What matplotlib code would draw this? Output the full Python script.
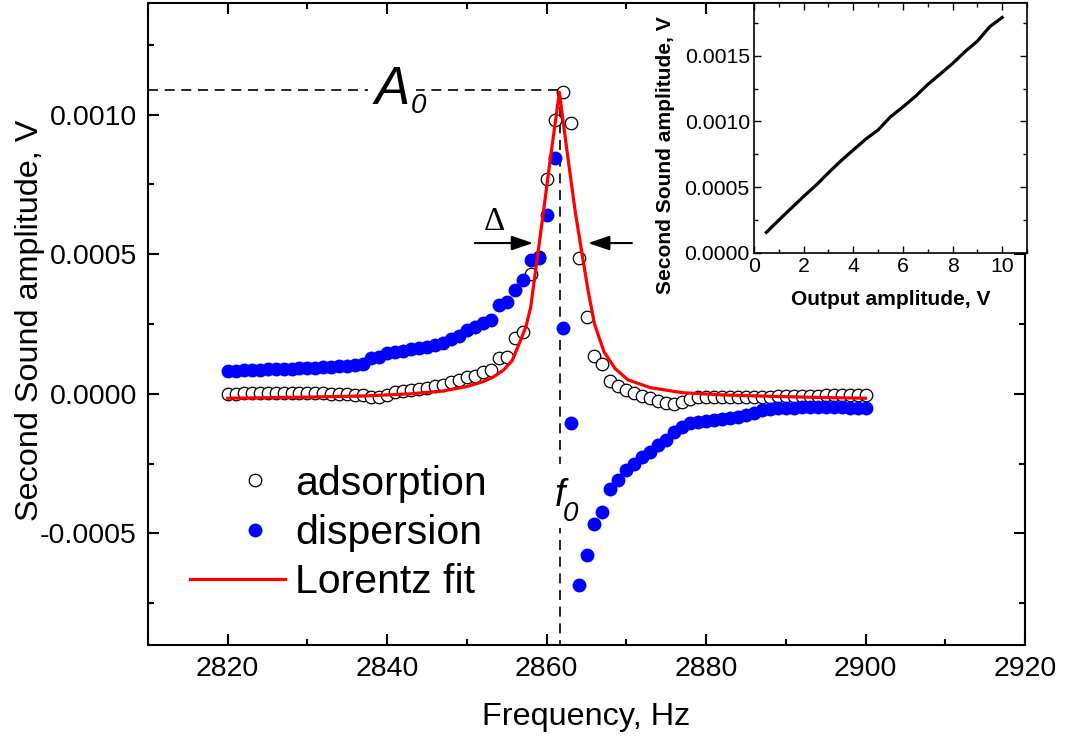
import numpy as np
import matplotlib
matplotlib.use('Agg')
import matplotlib.pyplot as plt
from matplotlib.legend_handler import HandlerLine2D
from matplotlib.ticker import MultipleLocator, FormatStrFormatter

# ---------------- data ----------------
freq = list(range(2820, 2901))  # Hz, 1 Hz step

adsorption = [
    0.0, 0.000001, 0.000002, 0.000002, 0.000002, 0.000003, 0.000003, 0.000003, 0.000003, 0.000002,   # 2820-2829
    0.000002, 0.000002, 0.000002, 0.000001, 0.0, -0.000002, -0.000004, -0.000006, -0.00001, -0.00001,  # 2830-2839
    -0.000004, 0.000006, 0.00001, 0.000014, 0.000018, 0.00002, 0.000028, 0.000031, 0.000043, 0.000049, # 2840-2849
    0.000061, 0.000065, 0.000079, 0.000085, 0.000127, 0.00013, 0.0002, 0.000222, 0.00043, 0.00049,     # 2850-2859
    0.00077, 0.00098, 0.00108, 0.00097, 0.000485, 0.000276, 0.000137, 0.000106, 0.000045, 0.000028,    # 2860-2869
    0.000015, 0.000003, -0.000007, -0.000016, -0.000025, -0.000033, -0.000035, -0.00003, -0.000017, -0.000013,  # 2870-2879
    -0.000012, -0.000012, -0.000012, -0.000012, -0.000011, -0.000011, -0.00001, -0.00001, -0.00001, -0.000009,  # 2880-2889
    -0.000009, -0.000008, -0.000008, -0.000007, -0.000007, -0.000006, -0.000006, -0.000005, -0.000005, -0.000004,  # 2890-2899
    -0.000004,                                                                                          # 2900
]

dispersion = [
    0.000083, 0.000083, 0.000084, 0.000085, 0.000086, 0.000087, 0.000088, 0.000089, 0.00009, 0.000091,   # 2820-2829
    0.000092, 0.000093, 0.000095, 0.000096, 0.000098, 0.0001, 0.000102, 0.000106, 0.000127, 0.000133,   # 2830-2839
    0.000145, 0.00015, 0.000155, 0.00016, 0.000164, 0.000169, 0.000176, 0.000183, 0.000197, 0.000206,   # 2840-2849
    0.000228, 0.000238, 0.000252, 0.000266, 0.000318, 0.00033, 0.000372, 0.000408, 0.00048, 0.000485,   # 2850-2859
    0.00064, 0.000843, 0.000235, -0.000105, -0.000685, -0.000578, -0.000467, -0.000422, -0.000342, -0.000309,  # 2860-2869
    -0.000273, -0.000252, -0.000225, -0.000207, -0.000184, -0.000166, -0.000136, -0.000118, -0.000106, -0.0001,  # 2870-2879
    -0.000096, -0.000094, -0.000091, -0.000088, -0.000082, -0.000076, -0.000068, -0.000058, -0.000054, -0.000052,  # 2880-2889
    -0.00005, -0.00005, -0.000049, -0.000049, -0.000048, -0.000048, -0.000048, -0.000049, -0.00005, -0.00005,  # 2890-2899
    -0.00005,                                                                                             # 2900
]

fit_f = [2820, 2830, 2837, 2843, 2847, 2850, 2852, 2853.3, 2854.6, 2855.7, 2856.7, 2857.4, 2858.0,
         2858.7, 2859.5, 2860.5, 2861.6, 2862.6, 2863.6, 2864.5, 2865.2, 2866.0, 2867.2, 2868.6,
         2870.2, 2873.0, 2877.0, 2882.0, 2888.0, 2894.0, 2900.0]
fit_v = [-0.000016, -0.000012, -0.000008, 0.0, 0.00001, 0.000026, 0.000043, 0.00006, 0.000085, 0.00012,
         0.00019, 0.00024, 0.00031, 0.00046, 0.00063, 0.00085, 0.00108, 0.00086, 0.00065, 0.00049,
         0.00037, 0.00025, 0.00015, 0.00009, 0.00005, 0.000022, 0.000004, -0.000004, -0.000009,
         -0.000013, -0.000016]

# inset: output amplitude vs second sound amplitude
out_amp = [0.5, 1.0, 1.5, 2.0, 2.5, 3.0, 3.5, 4.0, 4.5, 5.0, 5.5, 6.0, 6.5, 7.0, 7.5, 8.0, 8.5, 9.0, 9.5, 10.0]
ss_amp = [0.000157, 0.00025, 0.00034, 0.00043, 0.000515, 0.00061, 0.0007, 0.000783, 0.000865, 0.000935,
          0.001035, 0.00111, 0.00119, 0.00128, 0.00136, 0.00144, 0.00153, 0.00161, 0.00172, 0.00179]

legend_labels = ['adsorption', 'dispersion', 'Lorentz fit']

f0 = 2861.65
A0 = 0.001088
delta_y = 0.00054
delta_left = (2851.0, 2858.3)
delta_right = (2870.7, 2865.2)

# ---------------- figure ----------------
plt.rcParams['font.family'] = ['Liberation Sans', 'DejaVu Sans']

fig = plt.figure(figsize=(10.72, 7.45), dpi=100)
ax = fig.add_axes([148 / 1072, 100 / 745, 877 / 1072, 642 / 745])

l1, = ax.plot(freq, adsorption, 'o', mfc='white', mec='black', ms=9, mew=0.9, zorder=3,
              label=legend_labels[0])
l2, = ax.plot(freq, dispersion, 'o', color='#0000FF', mec='#0000FF', ms=10, mew=0, zorder=4,
              label=legend_labels[1])
l3, = ax.plot(fit_f, fit_v, '-', color='#FF0000', lw=2.3, zorder=5, label=legend_labels[2])

# dashed guide lines
ax.plot([2810, f0], [A0, A0], color='black', lw=1.2, dashes=(6, 4), zorder=2)
ax.plot([f0, f0], [A0, -0.0009], color='black', lw=1.2, dashes=(6, 4), zorder=2)

ax.set_xlim(2810, 2920)
ax.set_ylim(-0.0009, 0.0014)
ax.xaxis.set_major_locator(MultipleLocator(20))
ax.xaxis.set_minor_locator(MultipleLocator(10))
ax.yaxis.set_major_locator(MultipleLocator(0.0005))
ax.yaxis.set_minor_locator(MultipleLocator(0.00025))
ax.yaxis.set_major_formatter(FormatStrFormatter('%.4f'))
for s in ax.spines.values():
    s.set_linewidth(1.5)
ax.tick_params(which='both', direction='in', top=True, right=True, width=1.5)
ax.tick_params(which='major', length=8)
ax.tick_params(which='minor', length=4.5)
ax.tick_params(axis='both', labelsize=20.5)
ax.tick_params(axis='x', pad=8)
ax.tick_params(axis='y', pad=8)
ax.set_xlabel('Frequency, Hz', fontsize=23.3, labelpad=14)
ax.set_ylabel('Second Sound amplitude, V', fontsize=23.3)
ax.yaxis.set_label_coords(-0.117, 0.505)

# annotations
ax.text(2840.6, A0, 'A', fontsize=38, style='italic', ha='center', va='center',
        bbox=dict(facecolor='white', edgecolor='none', pad=5), zorder=2.5)
ax.text(2843.9, 0.00103, '0', fontsize=20, style='italic', ha='center', va='center',
        bbox=dict(facecolor='white', edgecolor='none', pad=2), zorder=2.6)
ax.text(f0, -0.000365, 'f', fontsize=27, style='italic', ha='center', va='center',
        bbox=dict(facecolor='white', edgecolor='none', pad=10), zorder=2.5)
ax.text(2863.0, -0.00043, '0', fontsize=20, style='italic', ha='center', va='center',
        zorder=2.6)
ax.text(2853.5, 0.000615, '\u0394', fontsize=24, family=['Liberation Serif', 'DejaVu Serif'],
        ha='center', va='center', zorder=6)
arrow = dict(arrowstyle='-|>,head_length=0.65,head_width=0.22', color='black', lw=1.5,
             shrinkA=0, shrinkB=0, mutation_scale=20)
ax.annotate('', xy=(delta_left[1], delta_y), xytext=(delta_left[0], delta_y), arrowprops=arrow,
            zorder=6)
ax.annotate('', xy=(delta_right[1], delta_y), xytext=(delta_right[0], delta_y), arrowprops=arrow,
            zorder=6)


# legend: markers shifted toward the label text
class ShiftedMarker(HandlerLine2D):
    def get_xdata(self, legend, xdescent, ydescent, width, height, fontsize):
        c = -xdescent + 0.68 * width
        return np.array([c - 1.0, c + 1.0]), np.array([c])


lfs = 29.5
lfs_px = lfs / 0.72
h = ShiftedMarker(numpoints=1)
ax.legend(handles=[l1, l2, l3], loc='center left',
          bbox_to_anchor=(190 / 1072, (745 - 533) / 745), bbox_transform=fig.transFigure,
          frameon=False, fontsize=lfs, handlelength=95 / lfs_px, handletextpad=10 / lfs_px,
          borderpad=0, borderaxespad=0, labelspacing=0.28,
          numpoints=1, handler_map={l1: h, l2: h})

# ---------------- inset ----------------
axin = fig.add_axes([754 / 1072, (745 - 253) / 745, 273 / 1072, 250 / 745])
axin.set_zorder(10)
axin.set_facecolor('white')
axin.plot(out_amp, ss_amp, '-', color='black', lw=2.3)
axin.set_xlim(0, 11)
axin.set_ylim(0, 0.0019)
axin.xaxis.set_major_locator(MultipleLocator(2))
axin.xaxis.set_minor_locator(MultipleLocator(1))
axin.yaxis.set_major_locator(MultipleLocator(0.0005))
axin.yaxis.set_minor_locator(MultipleLocator(0.00025))
axin.yaxis.set_major_formatter(FormatStrFormatter('%.4f'))
for s in axin.spines.values():
    s.set_linewidth(1.2)
axin.tick_params(which='both', direction='in', top=True, right=True, width=1.0)
axin.tick_params(which='major', length=5)
axin.tick_params(which='minor', length=3)
axin.tick_params(axis='both', labelsize=15.3, pad=3)
axin.set_xlabel('Output amplitude, V', fontsize=15.1, fontweight='bold', labelpad=10)
axin.set_ylabel('Second Sound amplitude, V', fontsize=15.1, fontweight='bold')
axin.yaxis.set_label_coords(-0.29, 0.392)

fig.savefig('out.png', dpi=100)
